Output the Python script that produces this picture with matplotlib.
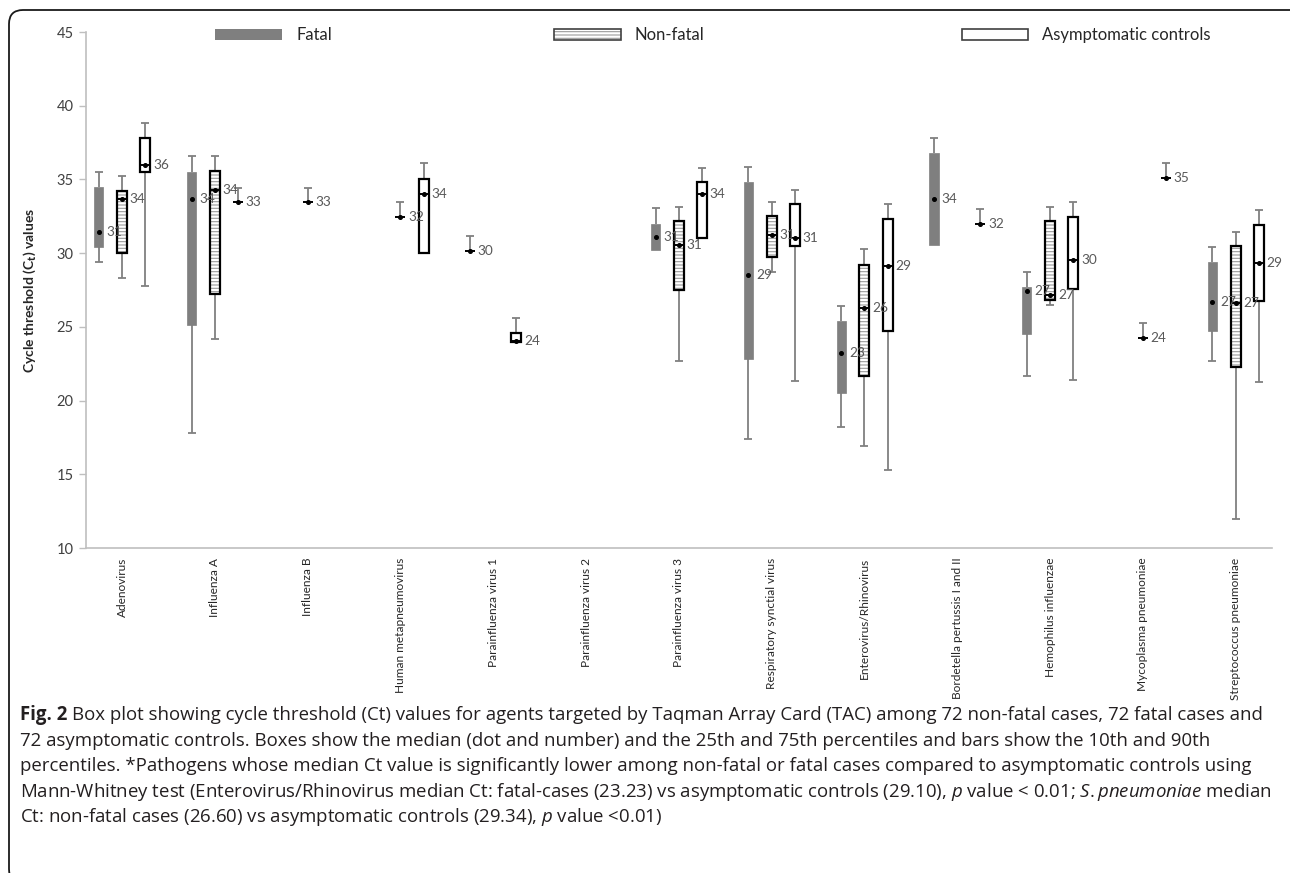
import matplotlib
matplotlib.use("Agg")
import matplotlib.pyplot as plt
from matplotlib.patches import Rectangle, FancyBboxPatch

# --------------------------------------------------------------------------- #
#  Data (Ct values)
# --------------------------------------------------------------------------- #
PATHOGENS = [
    "Adenovirus", "Influenza A", "Influenza B", "Human metapneumovirus",
    "Parainfluenza virus 1", "Parainfluenza virus 2", "Parainfluenza virus 3",
    "Respiratory synctial virus", "Enterovirus/Rhinovirus",
    "Bordetella pertussis I and II", "Hemophilus influenzae",
    "Mycoplasma pneumoniae", "Streptococcus pneumoniae",
]

# fatal cases
fatal_p10 = [29.4, 17.8, None, None, None, None, 30.2, 17.4, 18.2, 30.55, 21.7, None, 22.7]
fatal_q1  = [30.4, 25.1, None, None, None, None, 30.2, 22.8, 20.5, 30.55, 24.5, None, 24.7]
fatal_med = [31.45, 33.7, None, None, 30.15, None, 31.1, 28.55, 23.23, 33.65, 27.4, None, 26.7]
fatal_q3  = [34.5, 35.5, None, None, None, None, 32.0, 34.85, 25.4, 36.8, 27.7, None, 29.4]
fatal_p90 = [35.5, 36.6, None, None, 31.15, None, 33.05, 35.85, 26.4, 37.8, 28.75, None, 30.45]

# non-fatal cases
nonfatal_p10 = [28.3, 24.2, None, None, None, None, 22.7, 28.7, 16.9, None, 26.45, None, 11.95]
nonfatal_q1  = [30.0, 27.2, None, None, None, None, 27.5, 29.75, 21.7, None, 26.8, None, 22.25]
nonfatal_med = [33.65, 34.25, 33.45, 32.45, None, None, 30.55, 31.2, 26.3, None, 27.15, 24.25, 26.6]
nonfatal_q3  = [34.2, 35.55, None, None, None, None, 32.15, 32.5, 29.2, None, 32.15, None, 30.5]
nonfatal_p90 = [35.2, 36.6, 34.4, 33.5, None, None, 33.15, 33.5, 30.25, None, 33.15, 25.25, 31.45]

# asymptomatic controls
asym_p10 = [27.8, None, None, 30.0, 24.0, None, 31.0, 21.3, 15.3, None, 21.4, None, 21.25]
asym_q1  = [35.5, None, None, 30.0, 24.0, None, 31.0, 30.5, 24.7, None, 27.6, None, 26.75]
asym_med = [36.0, 33.45, None, 34.0, 24.05, None, 34.0, 31.0, 29.1, 32.0, 29.55, 35.1, 29.34]
asym_q3  = [37.8, None, None, 35.05, 24.6, None, 34.8, 33.3, 32.3, None, 32.45, None, 31.9]
asym_p90 = [38.8, 34.45, None, 36.1, 25.6, None, 35.75, 34.3, 33.3, 33.0, 33.45, 36.1, 32.9]

Y_TICKS = [10, 15, 20, 25, 30, 35, 40, 45]

# --------------------------------------------------------------------------- #
#  Style
# --------------------------------------------------------------------------- #
CHART_FONT = "Lato"
CAPTION_FONT = "Open Sans"
FATAL_GREY = "#7f7f7f"
WHISKER_GREY = "#808080"
AXIS_GREY = "#bfbfbf"
TEXT_DARK = "#262626"
LABEL_GREY = "#595959"
CAPTION_SIZE = 13.45

plt.rcParams["font.family"] = [CHART_FONT, "DejaVu Sans"]
plt.rcParams["mathtext.fontset"] = "custom"
plt.rcParams["mathtext.rm"] = CAPTION_FONT
plt.rcParams["mathtext.it"] = CAPTION_FONT + ":italic"
plt.rcParams["mathtext.bf"] = CAPTION_FONT + ":bold"
plt.rcParams["hatch.linewidth"] = 0.8

W, H = 1290, 873
fig = plt.figure(figsize=(W / 100, H / 100), dpi=100)

# axes placed in pixel terms of the reference
ax_l, ax_r, ax_t, ax_b = 86, 1272, 32, 548
ax = fig.add_axes([ax_l / W, (H - ax_b) / H, (ax_r - ax_l) / W, (ax_b - ax_t) / H])

GROUP_PX, FIRST_PX = 92.8, 122
ax.set_xlim((ax_l - FIRST_PX) / GROUP_PX, (ax_r - FIRST_PX) / GROUP_PX)
ax.set_ylim(10, 45)

for s in ("top", "right"):
    ax.spines[s].set_visible(False)
for s in ("left", "bottom"):
    ax.spines[s].set_color(AXIS_GREY)
    ax.spines[s].set_linewidth(1.2)

ax.set_yticks(Y_TICKS)
ax.tick_params(axis="y", colors=AXIS_GREY, length=5, width=1, pad=4,
               labelsize=10.5, labelcolor="#404040")
ax.set_xticks(range(len(PATHOGENS)))
ax.set_xticklabels(PATHOGENS, rotation=90, va="top", ha="center",
                   fontsize=8.6, color=TEXT_DARK)
ax.tick_params(axis="x", length=0, pad=7)

ax.set_ylabel(r"Cycle threshold (C$_\mathbf{t}$) values", fontsize=10,
              fontweight="bold", color=TEXT_DARK, labelpad=13)


def draw_series(offset, p10, q1, med, q3, p90, kind):
    width = 0.10 if kind == "fatal" else 0.108
    cap = 0.085
    for i in range(len(PATHOGENS)):
        if med[i] is None:
            continue
        x = i + offset
        has_box = q1[i] is not None
        top = q3[i] if has_box else med[i]
        bottom = q1[i] if has_box else med[i]
        # whiskers (10th / 90th percentiles)
        if p90[i] is not None and p90[i] > top:
            ax.vlines(x, top, p90[i], color=WHISKER_GREY, lw=1.3, zorder=2)
            ax.hlines(p90[i], x - cap / 2, x + cap / 2, color=WHISKER_GREY, lw=1.3, zorder=2)
        if p10[i] is not None and p10[i] < bottom:
            ax.vlines(x, p10[i], bottom, color=WHISKER_GREY, lw=1.3, zorder=2)
            ax.hlines(p10[i], x - cap / 2, x + cap / 2, color=WHISKER_GREY, lw=1.3, zorder=2)
        # box (25th / 75th percentiles)
        if has_box:
            if kind == "fatal":
                ax.bar(x, q3[i] - q1[i], bottom=q1[i], width=width,
                       color=FATAL_GREY, edgecolor=FATAL_GREY, lw=0.5, zorder=3)
            else:
                if kind == "nonfatal":
                    ax.bar(x, q3[i] - q1[i], bottom=q1[i], width=width,
                           color="white", edgecolor="#9a9a9a", lw=0,
                           hatch="-----", zorder=3)
                else:
                    ax.bar(x, q3[i] - q1[i], bottom=q1[i], width=width,
                           color="white", lw=0, zorder=3)
                ax.bar(x, q3[i] - q1[i], bottom=q1[i], width=width,
                       fill=False, edgecolor="black", lw=1.6, zorder=4)
        # median
        if not (kind == "fatal" and has_box):
            ax.hlines(med[i], x - width / 2, x + width / 2, color="black",
                      lw=1.4, zorder=5)
        ax.plot(x, med[i], "o", color="black", ms=2.6, zorder=6)
        ax.text(x + 0.085, med[i], f"{round(med[i])}", fontsize=9.8,
                color=LABEL_GREY, va="center", ha="left", zorder=6)


draw_series(-0.25, fatal_p10, fatal_q1, fatal_med, fatal_q3, fatal_p90, "fatal")
draw_series(0.0, nonfatal_p10, nonfatal_q1, nonfatal_med, nonfatal_q3, nonfatal_p90, "nonfatal")
draw_series(0.25, asym_p10, asym_q1, asym_med, asym_q3, asym_p90, "asym")

# --------------------------------------------------------------------------- #
#  Legend drawn across the top, in pixel terms
# --------------------------------------------------------------------------- #
def px_rect(x0, y0, x1, y1, **kw):
    r = Rectangle((x0 / W, (H - y1) / H), (x1 - x0) / W, (y1 - y0) / H,
                  transform=fig.transFigure, **kw)
    fig.add_artist(r)


px_rect(215, 29, 282, 40, facecolor=FATAL_GREY, edgecolor="none")
px_rect(554, 29, 621, 40, facecolor="white", edgecolor="#9a9a9a", lw=0, hatch="-----")
px_rect(554, 29, 621, 40, fill=False, edgecolor="#404040", lw=1.2)
px_rect(962, 29, 1028, 40, facecolor="white", edgecolor="#404040", lw=1.2)
for tx, label in [(297, "Fatal"), (634, "Non-fatal"), (1042, "Asymptomatic controls")]:
    fig.text(tx / W, (H - 35) / H, label, fontsize=12, color=TEXT_DARK,
             va="center", ha="left")

# --------------------------------------------------------------------------- #
#  Caption
# --------------------------------------------------------------------------- #
caption_lines = [
    "Box plot showing cycle threshold (Ct) values for agents targeted by "
    "Taqman Array Card (TAC) among 72 non-fatal cases, 72 fatal cases and",
    "72 asymptomatic controls. Boxes show the median (dot and number) and the 25th and "
    "75th percentiles and bars show the 10th and 90th",
    "percentiles. *Pathogens whose median Ct value is significantly lower among non-fatal "
    "or fatal cases compared to asymptomatic controls using",
    r"Mann-Whitney test (Enterovirus/Rhinovirus median Ct: fatal-cases (23.23) vs "
    r"asymptomatic controls (29.10), $\mathit{p}$ value < 0.01; $\mathit{S.pneumoniae}$ median",
    r"Ct: non-fatal cases (26.60) vs asymptomatic controls (29.34), $\mathit{p}$ value <0.01)",
]
cap_x, cap_y0, cap_step = 20, 715, 25.6
renderer = fig.canvas.get_renderer()
for k, line in enumerate(caption_lines):
    x = cap_x
    y = (H - (cap_y0 + cap_step * k)) / H
    if k == 0:
        bold = fig.text(x / W, y, "Fig. 2", family=CAPTION_FONT, weight="bold",
                        fontsize=CAPTION_SIZE, color="#231f20", va="center", ha="left")
        x = bold.get_window_extent(renderer).x1 + CAPTION_SIZE * 0.36
    fig.text(x / W, y, line, family=CAPTION_FONT, fontsize=CAPTION_SIZE,
             color="#231f20", va="center", ha="left")

# rounded frame around the figure panel
frame = FancyBboxPatch((9 / 100, -0.1), (1310 - 9) / 100, (H - 10) / 100 + 0.1,
                       boxstyle="round,pad=0,rounding_size=0.14",
                       transform=fig.dpi_scale_trans, fill=False,
                       edgecolor="#1a1a1a", lw=1.3)
fig.add_artist(frame)

fig.savefig("out.png", dpi=100)
plt.close(fig)
